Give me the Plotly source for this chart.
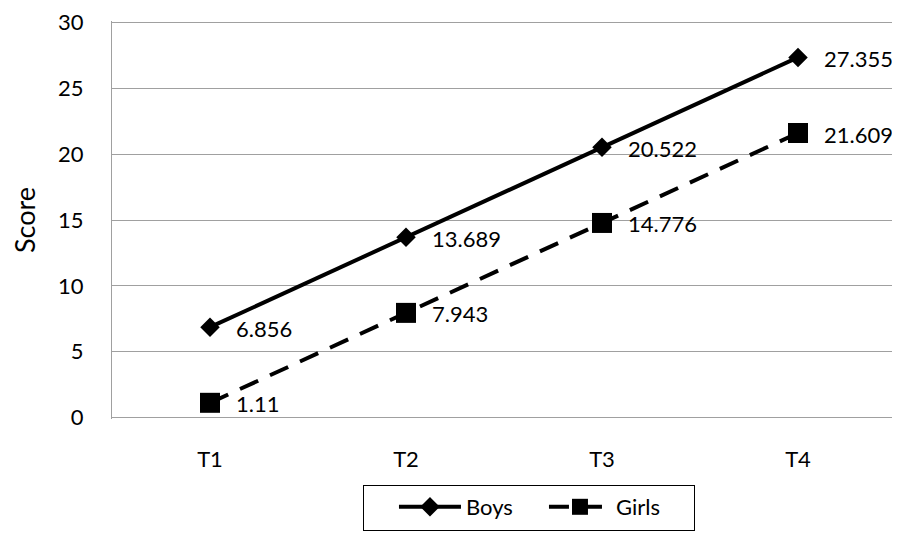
import plotly.graph_objects as go

categories = ["T1", "T2", "T3", "T4"]
boys = [6.856, 13.689, 20.522, 27.355]
girls = [1.11, 7.943, 14.776, 21.609]
boys_labels = ["6.856", "13.689", "20.522", "27.355"]
girls_labels = ["1.11", "7.943", "14.776", "21.609"]
y_ticks = [0, 5, 10, 15, 20, 25, 30]

FONT = "Lato, 'Open Sans', sans-serif"
FS = 22

# page body has an 8px margin, so the figure is offset by 8px
W, H = 892, 525
PL, PT, PR, PB = 104, 13, 888, 411  # plot area in figure coords

fig = go.Figure()
fig.add_trace(go.Scatter(
    x=categories, y=boys, name="Boys", mode="lines+markers",
    line=dict(color="black", width=4),
    marker=dict(symbol="diamond", size=15, color="black"),
))
fig.add_trace(go.Scatter(
    x=categories, y=girls, name="Girls", mode="lines+markers",
    line=dict(color="black", width=4, dash="20px,13px"),
    marker=dict(symbol="square", size=20, color="black"),
))

for cat, v, t in zip(categories, boys, boys_labels):
    fig.add_annotation(x=cat, y=v, text=t, showarrow=False, xanchor="left",
                       xshift=24, yshift=-1, font=dict(family=FONT, size=FS, color="black"))
for cat, v, t in zip(categories, girls, girls_labels):
    fig.add_annotation(x=cat, y=v, text=t, showarrow=False, xanchor="left",
                       xshift=24, yshift=-1, font=dict(family=FONT, size=FS, color="black"))

fig.update_layout(
    width=W, height=H,
    margin=dict(l=PL, r=W - PR, t=PT, b=H - PB, autoexpand=False),
    paper_bgcolor="white", plot_bgcolor="white",
    font=dict(family=FONT, size=FS, color="black"),
    showlegend=True,
    legend=dict(orientation="h", x=(355 - PL) / (PR - PL), xanchor="left",
                y=-66 / (PB - PT), yanchor="top",
                bordercolor="black", borderwidth=1, bgcolor="white",
                font=dict(size=FS), itemwidth=62, entrywidth=73,
                title=dict(text="\u00a0" * 3, side="left")),
    xaxis=dict(type="category", range=[-0.5, 3.5], showgrid=False, zeroline=False,
               showline=False, ticks="", ticklabelstandoff=25, automargin=False,
               tickfont=dict(size=FS)),
    yaxis=dict(range=[-0.12, 30.12], tickvals=y_ticks, showgrid=True, gridcolor="#A0A0A0",
               gridwidth=1.3, zeroline=False, showline=True, linecolor="#A0A0A0",
               linewidth=1.3, ticks="", ticklabelstandoff=23, automargin=False,
               title=dict(text="Score", standoff=21, font=dict(size=27)),
               tickfont=dict(size=FS)),
)

fig.write_html("out.html")
